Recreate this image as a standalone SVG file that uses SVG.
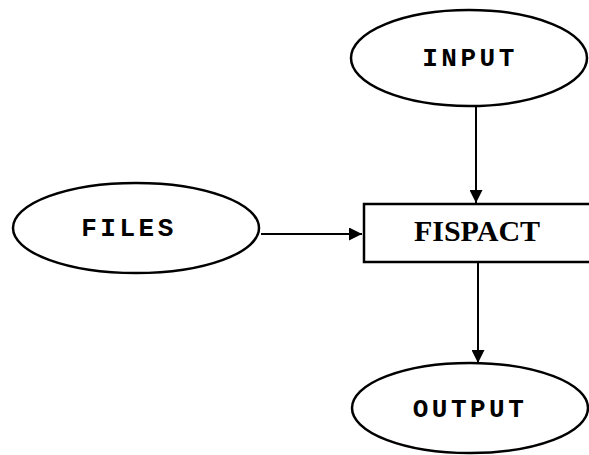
<svg xmlns="http://www.w3.org/2000/svg" width="589" height="455" viewBox="0 0 589 455">
<style>
.sh{fill:#fff;stroke:#000;stroke-width:2.5}
.mono{font-family:"Liberation Mono","Courier New",monospace;font-weight:bold;font-size:26px;letter-spacing:3.5px;fill:#000}
.serif{font-family:"Liberation Serif","Times New Roman",serif;font-weight:bold;font-size:30px;fill:#000}
.ln{stroke:#000;stroke-width:2;fill:none}
</style>
<defs>
<marker id="ah" viewBox="0 0 12 12" refX="12" refY="6" markerWidth="13" markerHeight="13" markerUnits="userSpaceOnUse" orient="auto">
<path d="M0,0 L12,6 L0,12 z" fill="#000"/>
</marker>
</defs>
<g id="connectors">
<line class="ln" x1="476" y1="107" x2="476" y2="203" marker-end="url(#ah)"/>
<line class="ln" x1="261" y1="234" x2="362" y2="234" marker-end="url(#ah)"/>
<line class="ln" x1="478" y1="263" x2="478" y2="363" marker-end="url(#ah)"/>
</g>
<g id="input">
<ellipse class="sh" cx="469" cy="58" rx="118" ry="48"/>
<text class="mono" x="470" y="66" text-anchor="middle">INPUT</text>
</g>
<g id="files">
<ellipse class="sh" cx="136" cy="228" rx="123" ry="45"/>
<text class="mono" x="129" y="236" text-anchor="middle">FILES</text>
</g>
<g id="fispact">
<rect class="sh" x="364" y="204" width="240" height="58"/>
<text class="serif" x="477" y="241" text-anchor="middle">FISPACT</text>
</g>
<g id="output">
<ellipse class="sh" cx="470" cy="408" rx="118" ry="45"/>
<text class="mono" x="470" y="417" text-anchor="middle">OUTPUT</text>
</g>
</svg>
